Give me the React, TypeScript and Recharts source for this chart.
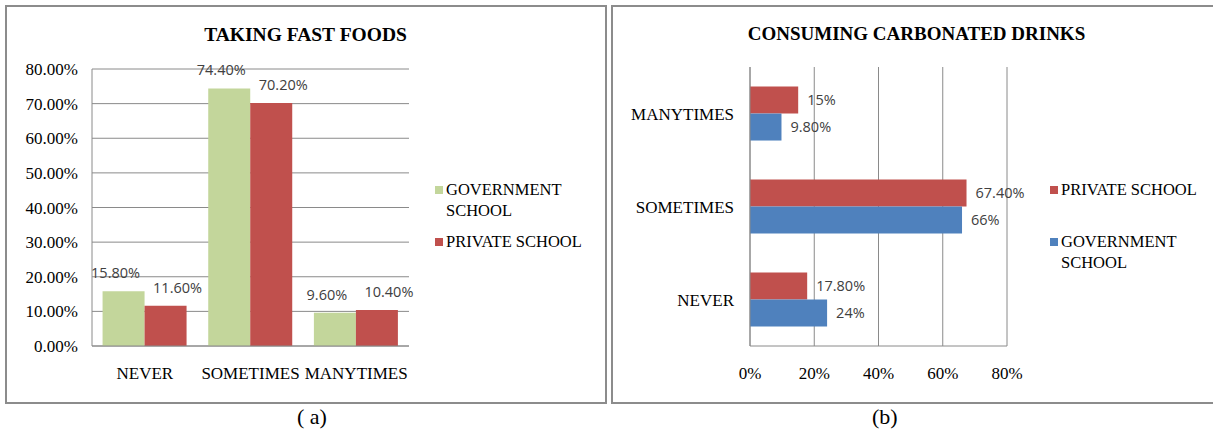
import React from 'react'
import { BarChart, Bar, XAxis, YAxis, CartesianGrid, Legend, LabelList } from 'recharts'

// (a) taking fast foods
const fastFoodCategories = ['NEVER', 'SOMETIMES', 'MANYTIMES']
const fastFoodGovernment = [15.8, 74.4, 9.6]
const fastFoodPrivate = [11.6, 70.2, 10.4]
const fastFoodTicks = [0, 10, 20, 30, 40, 50, 60, 70, 80]

// (b) consuming carbonated drinks, listed top to bottom
const drinkCategories = ['MANYTIMES', 'SOMETIMES', 'NEVER']
const drinkPrivate = [15, 67.4, 17.8]
const drinkGovernment = [9.8, 66, 24]
const drinkTicks = [0, 20, 40, 60, 80]

const GREEN = '#C3D69B'
const RED = '#C0504D'
const BLUE = '#4F81BD'
const GRID = '#8a8a8a'
const SERIF = '"Liberation Serif", "Times New Roman", serif'
const SANS = '"Open Sans", sans-serif'

const fastFoodData = fastFoodCategories.map((c, i) => ({
    name: c,
    gov: fastFoodGovernment[i],
    priv: fastFoodPrivate[i],
}))

const drinkData = drinkCategories.map((c, i) => ({
    name: c,
    priv: drinkPrivate[i],
    gov: drinkGovernment[i],
}))

const pct2 = (v: any) => `${Number(v).toFixed(2)}%`
const pctDrink = (v: any) => (Number.isInteger(v) ? `${v}%` : `${Number(v).toFixed(2)}%`)

const tickStyle = { fontSize: 17, fill: '#000', fontFamily: SERIF }
const labelStyle = { fontSize: 14.5, fill: '#404040', fontFamily: SANS }

// column labels sit above the bar, nudged apart a little like the original
const topLabel = (shift: number) => (props: any) => {
    const { x, y, width, value } = props
    return (
        <text x={x + width / 2 + shift} y={y - 13} textAnchor="middle" style={labelStyle}>
            {pct2(value)}
        </text>
    )
}

function SchoolLegend({ payload, reverse }: any) {
    const items = reverse ? [...(payload || [])].reverse() : payload || []
    return (
        <div style={{ fontFamily: SERIF, fontSize: 16.5, color: '#000', lineHeight: '21px' }}>
            {items.map((p: any) => (
                <div key={p.value} style={{ display: 'flex', height: 52, width: 150 }}>
                    <span
                        style={{
                            width: 8,
                            height: 8,
                            background: p.color,
                            marginTop: 7,
                            marginRight: 3,
                            flex: 'none',
                        }}
                    />
                    <span>{p.value}</span>
                </div>
            ))}
        </div>
    )
}

const panel = (left: number, width: number): React.CSSProperties => ({
    position: 'absolute',
    left,
    top: 5,
    width,
    height: 395,
    border: '2px solid #8c8c8c',
    boxSizing: 'content-box',
})

export default function App() {
    return (
        <div style={{ position: 'absolute', left: 0, top: 0, width: 1213, height: 434, background: '#fff', overflow: 'hidden' }}>
            <div style={panel(5, 598)} />
            <div style={panel(611, 610)} />

            <div style={{ position: 'absolute', left: 0, top: 0 }}>
                <BarChart
                    width={605}
                    height={402}
                    data={fastFoodData}
                    margin={{ top: 69, right: 196, bottom: 26, left: 12 }}
                    barCategoryGap="10%"
                    barGap={0}
                >
                    <text x={305.5} y={41} textAnchor="middle" style={{ fontFamily: SERIF, fontSize: 19.5, fontWeight: 700 }}>
                        TAKING FAST FOODS
                    </text>
                    <CartesianGrid vertical={false} stroke={GRID} />
                    <XAxis
                        dataKey="name"
                        height={30}
                        tick={tickStyle}
                        tickLine={false}
                        tickSize={0}
                        tickMargin={21}
                        axisLine={{ stroke: GRID }}
                    />
                    <YAxis
                        width={80}
                        domain={[0, 80]}
                        ticks={fastFoodTicks}
                        tickFormatter={pct2}
                        tick={tickStyle}
                        tickLine={false}
                        tickSize={0}
                        tickMargin={14}
                        axisLine={{ stroke: GRID }}
                    />
                    <Legend
                        layout="vertical"
                        align="center"
                        verticalAlign="middle"
                        content={<SchoolLegend />}
                        wrapperStyle={{ left: 435, top: 179, width: 160, height: 110 }}
                    />
                    <Bar dataKey="gov" name="GOVERNMENT SCHOOL" fill={GREEN} isAnimationActive={false}>
                        <LabelList dataKey="gov" content={topLabel(-8)} />
                    </Bar>
                    <Bar dataKey="priv" name="PRIVATE SCHOOL" fill={RED} isAnimationActive={false}>
                        <LabelList dataKey="priv" content={topLabel(12)} />
                    </Bar>
                </BarChart>
            </div>

            <div style={{ position: 'absolute', left: 613, top: 0 }}>
                <BarChart
                    layout="vertical"
                    width={600}
                    height={402}
                    data={drinkData}
                    margin={{ top: 67, right: 206, bottom: 26, left: 17 }}
                    barCategoryGap="21%"
                    barGap={0}
                >
                    <text x={303.5} y={40} textAnchor="middle" style={{ fontFamily: SERIF, fontSize: 19, fontWeight: 700 }}>
                        CONSUMING CARBONATED DRINKS
                    </text>
                    <CartesianGrid horizontal={false} stroke={GRID} />
                    <XAxis
                        type="number"
                        domain={[0, 80]}
                        ticks={drinkTicks}
                        tickFormatter={(v: any) => `${v}%`}
                        height={30}
                        tick={tickStyle}
                        tickLine={false}
                        tickSize={0}
                        tickMargin={21}
                        axisLine={{ stroke: GRID }}
                    />
                    <YAxis
                        type="category"
                        dataKey="name"
                        width={120}
                        tick={tickStyle}
                        tickLine={false}
                        tickSize={0}
                        tickMargin={16}
                        axisLine={{ stroke: GRID }}
                    />
                    <Legend
                        layout="vertical"
                        align="center"
                        verticalAlign="middle"
                        content={<SchoolLegend reverse />}
                        wrapperStyle={{ left: 437, top: 179, width: 160, height: 110 }}
                    />
                    <Bar dataKey="priv" name="PRIVATE SCHOOL" fill={RED} isAnimationActive={false}>
                        <LabelList dataKey="priv" position="right" offset={9} formatter={pctDrink} style={labelStyle} />
                    </Bar>
                    <Bar dataKey="gov" name="GOVERNMENT SCHOOL" fill={BLUE} isAnimationActive={false}>
                        <LabelList dataKey="gov" position="right" offset={9} formatter={pctDrink} style={labelStyle} />
                    </Bar>
                </BarChart>
            </div>

            <div style={{ position: 'absolute', left: 297, top: 404, fontFamily: SERIF, fontSize: 22, whiteSpace: 'pre' }}>( a)</div>
            <div style={{ position: 'absolute', left: 872, top: 404, fontFamily: SERIF, fontSize: 22 }}>(b)</div>
        </div>
    )
}
